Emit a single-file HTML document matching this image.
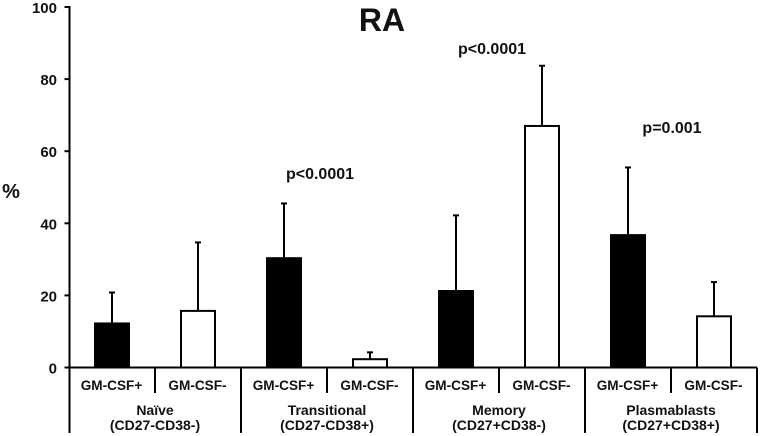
<!DOCTYPE html>
<html>
<head>
<meta charset="utf-8">
<style>
html,body{margin:0;padding:0;background:#fff;}
svg{display:block;}
text{font-family:"Liberation Sans",sans-serif;font-weight:bold;fill:#111;}
</style>
</head>
<body>
<svg id="chart" width="760" height="436" viewBox="0 0 760 436" xmlns="http://www.w3.org/2000/svg">
<text x="382" y="31" font-size="32" text-anchor="middle">RA</text>
<text x="11" y="198" font-size="20" text-anchor="middle">%</text>
</svg>
<script>
const groups = ['Naïve', 'Transitional', 'Memory', 'Plasmablasts'];
const groupMarkers = ['(CD27-CD38-)', '(CD27-CD38+)', '(CD27+CD38-)', '(CD27+CD38+)'];
const seriesLabels = ['GM-CSF+', 'GM-CSF-'];
const positiveValues = [12.5, 30.6, 21.5, 37];
const negativeValues = [15.7, 2.3, 67, 14.2];
const positiveErrors = [8.3, 14.9, 20.7, 18.5];
const negativeErrors = [19, 1.9, 16.7, 9.5];
const pValues = ['', 'p<0.0001', 'p<0.0001', 'p=0.001'];
const pHeights = [null, 53.7, 88.3, 66.4];
const yTicks = [0, 20, 40, 60, 80, 100];

const svg = document.getElementById('chart');
const NS = 'http://www.w3.org/2000/svg';
const plotLeft = 69, groupWidth = 172, y0 = 367.5, y100 = 7;
const yScale = v => y0 - (v / 100) * (y0 - y100);
const groupX = i => plotLeft + i * groupWidth;
const barX = (g, s) => groupX(g) + groupWidth * (s === 0 ? 0.25 : 0.75);
const barW = 36;

function line(x1, y1, x2, y2, w) {
  const el = document.createElementNS(NS, 'line');
  el.setAttribute('x1', x1);
  el.setAttribute('y1', y1);
  el.setAttribute('x2', x2);
  el.setAttribute('y2', y2);
  el.setAttribute('stroke', '#000');
  el.setAttribute('stroke-width', w);
  svg.appendChild(el);
  return el;
}
function label(str, x, y, size, anchor) {
  const el = document.createElementNS(NS, 'text');
  el.setAttribute('x', x);
  el.setAttribute('y', y);
  el.setAttribute('font-size', size);
  el.setAttribute('text-anchor', anchor);
  el.textContent = str;
  svg.appendChild(el);
  return el;
}

yTicks.forEach(t => {
  const tk = line(64.5, yScale(t), plotLeft + 1, yScale(t), 2);
  
  
  const tl = label(String(t), 57, yScale(t) + 6, 15, 'end');
  
  
});

groups.forEach((g, i) => {
  [positiveValues, negativeValues].forEach((vals, s) => {
    const errs = s === 0 ? positiveErrors : negativeErrors;
    const cx = barX(i, s);
    const top = yScale(vals[i] + errs[i]);
    const eb = line(cx, yScale(vals[i]), cx, top, 2);
    
    
    const cap = line(cx - 3, top, cx + 3, top, 2);
    
    
    const r = document.createElementNS(NS, 'rect');
    const yTop = yScale(vals[i]);
    if (s === 0) {
      r.setAttribute('x', cx - barW / 2);
      r.setAttribute('width', barW);
      r.setAttribute('y', yTop);
      r.setAttribute('height', y0 - yTop);
      r.setAttribute('fill', '#000');
    } else {
      r.setAttribute('x', cx - barW / 2 + 1);
      r.setAttribute('width', barW - 2);
      r.setAttribute('y', yTop);
      r.setAttribute('height', y0 - yTop);
      r.setAttribute('fill', '#fff');
      r.setAttribute('stroke', '#000');
      r.setAttribute('stroke-width', 2);
    }
    
    
    svg.appendChild(r);
    const sl = label(seriesLabels[s], cx - 0.5, 390, 13.6, 'middle');
    
    
  });
  const cx = groupX(i) + groupWidth / 2;
  const gl = label(g, cx, 415, 14, 'middle');
  
  
  const ml = label(groupMarkers[i], cx, 430, 14, 'middle');
  
  
  const mid = line(cx, y0, cx, 393, 2);
  
  
  if (i > 0) {
    const sep = line(groupX(i), y0, groupX(i), 433, 2);
    
    
  }
  if (pValues[i]) {
    const shift = i === 3 ? 1 : -7;
    const p = label(pValues[i], cx + shift, yScale(pHeights[i]) + 5, 16, 'middle');
    
    
  }
});

const yAxis = line(plotLeft + 0.5, y100 - 1, plotLeft + 0.5, 433, 2);


const xAxis = line(plotLeft, y0, 757, y0, 2);


const last = line(757, y0, 757, 433, 2);


</script>
</body>
</html>
